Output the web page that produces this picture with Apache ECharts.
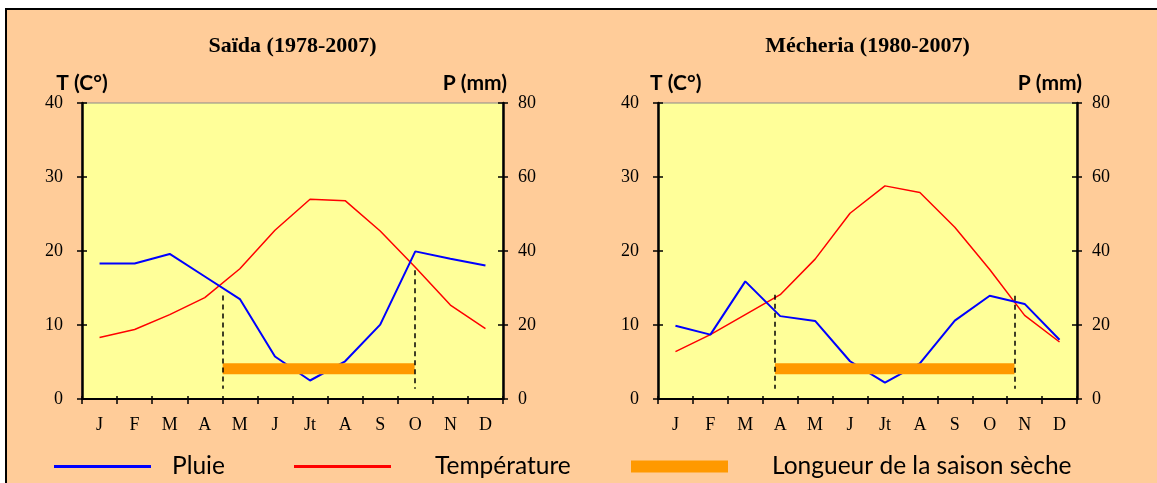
<!DOCTYPE html>
<html>
<head>
<meta charset="utf-8">
<title>Diagrammes ombrothermiques</title>
<script src="https://cdn.jsdelivr.net/npm/echarts/dist/echarts.min.js"></script>
<style>
  html, body { margin: 0; padding: 0; background: #ffffff; }
  #frame {
    position: absolute; left: 5px; top: 8px; right: 0; bottom: 0;
    border-left: 2px solid #000; border-top: 2px solid #000;
    background: #FFCC99;
  }
  #chart { position: absolute; left: 0; top: 0; width: 1157px; height: 483px; }
</style>
</head>
<body>
<div id="frame"></div>
<div id="chart"></div>
<script>
// Months
const months = ['J', 'F', 'M', 'A', 'M', 'J', 'Jt', 'A', 'S', 'O', 'N', 'D'];

// Saïda (1978-2007): mean temperature (°C) and rainfall (mm)
const saidaTemp = [8.3, 9.4, 11.4, 13.7, 17.6, 22.8, 27.0, 26.8, 22.7, 17.8, 12.7, 9.5];
const saidaRain = [36.6, 36.6, 39.2, 33.1, 27.0, 11.5, 5.0, 10.2, 20.1, 39.9, 37.9, 36.1];
// dry season: start / end (in months from January) and the height of its dashed limits (°C)
const saidaDry = [4.01, 9.48];
const saidaDryTop = [14.0, 17.4];

// Mécheria (1980-2007)
const mechTemp = [6.4, 8.7, 11.4, 14.1, 18.9, 25.1, 28.8, 27.9, 23.2, 17.5, 11.3, 7.7];
const mechRain = [19.8, 17.4, 31.8, 22.4, 21.1, 10.2, 4.4, 9.6, 21.2, 27.9, 25.7, 16.0];
const mechDry = [3.35, 10.21];
const mechDryTop = [14.1, 13.95];

// level of the dry-season band and foot of its dashed limits (°C)
const dryLevel = 4.1;
const dryFoot = 1.4;

const stations = [
  { title: 'Saïda (1978-2007)', temp: saidaTemp, rain: saidaRain, dry: saidaDry, dryTop: saidaDryTop,
    grid: { left: 82, top: 103, width: 421, height: 296 }, tNameAlign: 'center', tNamePad: [0, 0, 0, 0], pNamePad: [0, -4, 0, 0] },
  { title: 'Mécheria (1980-2007)', temp: mechTemp, rain: mechRain, dry: mechDry, dryTop: mechDryTop,
    grid: { left: 658, top: 103, width: 419, height: 296 }, tNameAlign: 'left', tNamePad: [0, 0, 0, -8], pNamePad: [0, -5, 0, 0] }
];

const serif = 'Liberation Serif, Times New Roman, serif';
const sans = 'Lato, Noto Sans, sans-serif';
const black = '#000000';

const grids = [], xAxes = [], yAxes = [], series = [], titles = [];

stations.forEach(function (st, g) {
  grids.push(Object.assign({
    show: true, backgroundColor: '#FFFF99', borderColor: '#8a8a8a', borderWidth: 1,
    containLabel: false, outerBoundsMode: 'none'
  }, st.grid));

  titles.push({
    text: st.title,
    left: st.grid.left + st.grid.width / 2, top: 35, textAlign: 'center', padding: 0,
    textStyle: { fontFamily: serif, fontWeight: 'bold', fontSize: 22, color: black }
  });

  // month axis
  xAxes.push({
    type: 'category', gridIndex: g, data: months, boundaryGap: true, position: 'bottom',
    axisLine: { show: true, onZero: false, lineStyle: { color: black, width: 2 } },
    axisTick: { show: true, length: 5, lineStyle: { color: black, width: 1.5 } },
    axisLabel: { color: black, fontFamily: serif, fontSize: 18, margin: 17 },
    splitLine: { show: false }
  });
  // continuous month scale used by the dry-season band (also gives the inner ticks)
  xAxes.push({
    type: 'value', gridIndex: g, min: 0, max: 12, interval: 1, position: 'bottom',
    axisLine: { show: false, onZero: false },
    axisTick: { show: true, inside: true, length: 3, lineStyle: { color: black, width: 1.5 } },
    axisLabel: { show: false }, splitLine: { show: false }
  });

  // temperature axis
  yAxes.push({
    type: 'value', gridIndex: g, position: 'left', min: 0, max: 40, interval: 10,
    name: 'T (C°)', nameLocation: 'end', nameGap: 9,
    nameTextStyle: { fontFamily: sans, fontWeight: 'bold', fontSize: 21, color: black,
                     align: st.tNameAlign, padding: st.tNamePad },
    axisLine: { show: true, onZero: false, lineStyle: { color: black, width: 2.5 } },
    axisTick: { show: true, length: 5, lineStyle: { color: black, width: 1.5 } },
    axisLabel: { color: black, fontFamily: serif, fontSize: 18, margin: 19 },
    splitLine: { show: false }
  });
  // rainfall axis
  yAxes.push({
    type: 'value', gridIndex: g, position: 'right', min: 0, max: 80, interval: 20,
    name: 'P (mm)', nameLocation: 'end', nameGap: 9,
    nameTextStyle: { fontFamily: sans, fontWeight: 'bold', fontSize: 21, color: black,
                     align: 'right', padding: st.pNamePad },
    axisLine: { show: true, onZero: false, lineStyle: { color: black, width: 2.5 } },
    axisTick: { show: true, length: 5, lineStyle: { color: black, width: 1.5 } },
    axisLabel: { color: black, fontFamily: serif, fontSize: 18, margin: 15 },
    splitLine: { show: false }
  });
  // inner halves of the crossing ticks
  [['left', 40, 10], ['right', 80, 20]].forEach(function (a) {
    yAxes.push({
      type: 'value', gridIndex: g, position: a[0], min: 0, max: a[1], interval: a[2],
      axisLine: { show: false }, axisLabel: { show: false }, splitLine: { show: false },
      axisTick: { show: true, inside: true, length: 5, lineStyle: { color: black, width: 1.5 } }
    });
  });

  const xCat = 2 * g, xVal = 2 * g + 1, yT = 4 * g, yP = 4 * g + 1;

  series.push({
    name: 'Température', type: 'line', xAxisIndex: xCat, yAxisIndex: yT,
    data: st.temp, symbol: 'none', z: 2,
    lineStyle: { color: '#FF0000', width: 1.5 }, itemStyle: { color: '#FF0000' }
  });
  series.push({
    name: 'Pluie', type: 'line', xAxisIndex: xCat, yAxisIndex: yP,
    data: st.rain, symbol: 'none', z: 3,
    lineStyle: { color: '#0000FF', width: 2 }, itemStyle: { color: '#0000FF' }
  });
  series.push({
    name: 'Longueur de la saison sèche', type: 'line', xAxisIndex: xVal, yAxisIndex: yT,
    data: [[st.dry[0], dryLevel], [st.dry[1], dryLevel]], symbol: 'none', z: 4,
    lineStyle: { color: '#FF9900', width: 11, cap: 'butt' }, itemStyle: { color: '#FF9900' },
    markLine: {
      silent: true, symbol: 'none', label: { show: false },
      lineStyle: { color: black, type: [5, 4], width: 1.5 },
      data: [
        [{ coord: [st.dry[0], st.dryTop[0]] }, { coord: [st.dry[0], dryFoot] }],
        [{ coord: [st.dry[1], st.dryTop[1]] }, { coord: [st.dry[1], dryFoot] }]
      ]
    }
  });
});

const legendText = { fontFamily: sans, fontSize: 24.5, color: black };
const legends = [
  { data: ['Pluie'], left: 54, itemHeight: 3, gap: 16 },
  { data: ['Température'], left: 294, itemHeight: 3, gap: 39 },
  { data: ['Longueur de la saison sèche'], left: 631, itemHeight: 12, gap: 39 }
].map(function (l) {
  return {
    data: l.data, left: l.left, top: 454, padding: 0, icon: 'rect',
    itemWidth: 97, itemHeight: l.itemHeight, selectedMode: false,
    textStyle: Object.assign({ padding: [0, 0, 0, l.gap] }, legendText)
  };
});

const chart = echarts.init(document.getElementById('chart'), null, { renderer: 'canvas' });
chart.setOption({
  animation: false,
  backgroundColor: 'transparent',
  title: titles,
  legend: legends,
  grid: grids,
  xAxis: xAxes,
  yAxis: yAxes,
  series: series
});
</script>
</body>
</html>
